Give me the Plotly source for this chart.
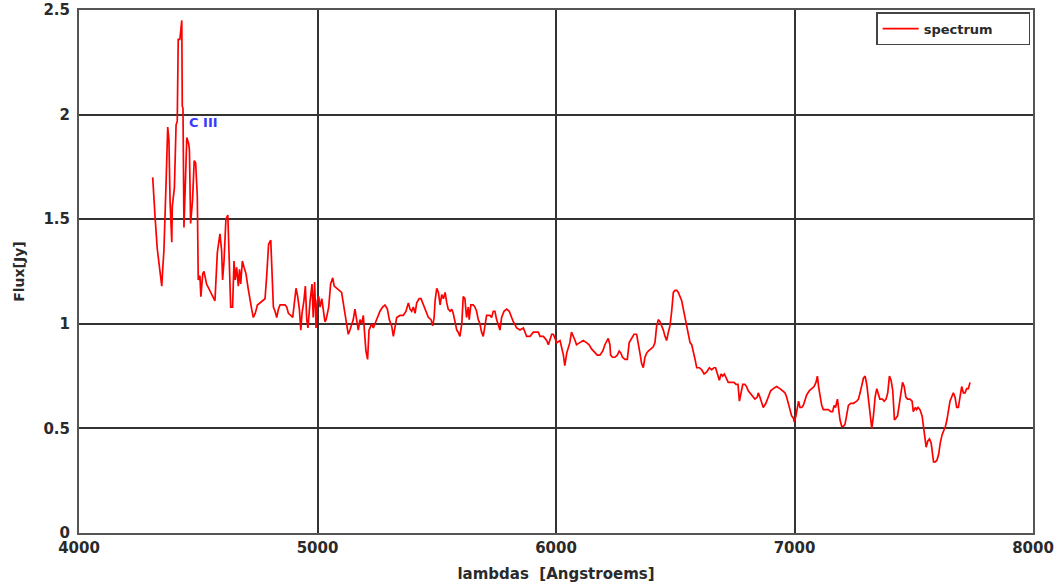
import plotly.graph_objects as go

wavelength = [
4309,4312,4319,4328,4340,4347,4351,4356,4365,4372,4377,4382,4389,4391,4400,4407,4412,4416,4423,4431,
4433,4436,4440,4444,4452,4460,4463,4468,4476,4483,4489,4496,4500,4507,4511,4519,4524,4535,4549,4563,
4570,4580,4588,4591,4598,4602,4608,4616,4624,4630,4636,4644,4650,4655,4661,4668,4673,4678,4685,4692,
4700,4709,4717,4724,4731,4739,4748,4759,4770,4780,4787,4795,4804,4808,4815,4822,4829,4836,4843,4854,
4864,4871,4878,4888,4896,4901,4910,4917,4924,4930,4935,4943,4949,4955,4960,4969,4977,4982,4988,4994,
4999,5005,5011,5018,5024,5031,5036,5047,5055,5064,5070,5080,5091,5101,5108,5115,5122,5129,5136,5150,
5157,5164,5171,5178,5185,5192,5199,5203,5210,5216,5227,5234,5241,5251,5262,5273,5283,5293,5301,5311,
5318,5326,5332,5346,5360,5371,5381,5388,5395,5402,5409,5416,5426,5434,5444,5455,5465,5476,5483,5489,
5493,5500,5507,5514,5521,5528,5535,5542,5548,5556,5563,5569,5577,5584,5590,5597,5605,5611,5618,5625,
5632,5636,5643,5653,5660,5667,5674,5681,5688,5695,5702,5709,5723,5730,5737,5744,5751,5758,5765,5772,
5782,5793,5804,5814,5821,5835,5849,5863,5870,5877,5891,5905,5926,5933,5947,5961,5968,5982,5989,6003,
6017,6031,6037,6045,6058,6065,6080,6086,6100,6114,6128,6139,6149,6156,6163,6173,6184,6196,6205,6213,
6219,6226,6229,6237,6247,6257,6265,6272,6279,6289,6299,6307,6317,6327,6338,6345,6352,6359,6366,6373,
6380,6387,6397,6408,6415,6422,6429,6436,6443,6450,6457,6464,6471,6478,6485,6492,6499,6506,6513,6520,
6527,6534,6541,6548,6555,6562,6569,6576,6583,6590,6601,6611,6621,6632,6643,6653,6662,6669,6676,6685,
6692,6699,6706,6713,6722,6737,6746,6755,6763,6769,6776,6783,6792,6799,6806,6813,6824,6834,6844,6848,
6855,6862,6869,6880,6890,6900,6911,6925,6939,6950,6960,6967,6974,6981,6988,6995,6999,7006,7012,7017,
7023,7030,7037,7044,7051,7062,7072,7082,7090,7096,7101,7107,7114,7121,7132,7142,7152,7160,7166,7172,
7180,7185,7191,7198,7205,7212,7219,7226,7236,7247,7261,7268,7275,7282,7289,7296,7303,7310,7317,7324,
7331,7338,7345,7351,7358,7369,7376,7384,7391,7398,7405,7412,7419,7426,7432,7440,7447,7453,7460,7467,
7474,7484,7493,7498,7507,7512,7518,7526,7535,7540,7546,7552,7559,7566,7573,7577,7583,7591,7598,7605,
7611,7619,7626,7633,7639,7645,7652,7659,7666,7673,7680,7687,7694,7701,7708,7715,7722,7729,7736,
]

flux = [
1.70,1.63,1.51,1.36,1.25,1.18,1.26,1.35,1.67,1.94,1.88,1.58,1.39,1.56,1.65,1.95,1.97,2.36,2.36,2.45,
2.04,2.03,1.46,1.65,1.89,1.86,1.83,1.48,1.59,1.78,1.77,1.61,1.21,1.23,1.13,1.24,1.25,1.19,1.16,1.13,
1.11,1.34,1.43,1.43,1.35,1.21,1.30,1.50,1.52,1.31,1.08,1.08,1.30,1.21,1.27,1.18,1.26,1.19,1.30,1.27,
1.24,1.17,1.11,1.07,1.03,1.05,1.09,1.10,1.11,1.12,1.23,1.38,1.40,1.24,1.08,1.06,1.03,1.07,1.09,1.09,
1.09,1.08,1.05,1.04,1.03,1.08,1.17,1.13,1.07,0.97,1.05,1.11,1.18,1.02,0.98,1.11,1.19,1.03,1.20,0.98,
1.11,1.13,1.08,1.12,1.07,1.01,1.02,1.08,1.19,1.22,1.18,1.17,1.16,1.15,1.10,1.05,0.98,0.95,0.97,1.02,
1.07,1.02,0.97,1.02,1.00,1.04,0.92,0.87,0.83,0.97,1.00,0.98,1.00,1.03,1.06,1.08,1.09,1.07,1.02,0.99,
0.94,0.99,1.03,1.04,1.04,1.06,1.10,1.07,1.06,1.08,1.05,1.10,1.12,1.12,1.09,1.06,1.03,1.02,0.99,1.03,
1.11,1.17,1.15,1.09,1.14,1.12,1.15,1.10,1.07,1.06,1.07,1.05,1.00,0.97,0.96,0.94,1.00,1.13,1.12,1.03,
1.08,1.02,1.09,1.09,1.08,1.06,1.02,1.00,0.96,0.94,0.99,1.04,1.04,1.03,1.06,1.06,1.02,0.99,0.97,1.03,
1.06,1.07,1.06,1.03,1.01,0.98,0.97,0.98,0.96,0.94,0.94,0.96,0.96,0.94,0.94,0.92,0.90,0.95,0.95,0.91,
0.92,0.85,0.80,0.86,0.91,0.96,0.92,0.90,0.91,0.92,0.91,0.90,0.88,0.87,0.86,0.85,0.85,0.87,0.90,0.92,
0.93,0.90,0.85,0.84,0.84,0.85,0.87,0.86,0.84,0.83,0.83,0.91,0.93,0.95,0.95,0.91,0.86,0.81,0.79,0.84,
0.86,0.87,0.88,0.89,0.91,0.99,1.02,1.01,0.99,0.97,0.94,0.92,0.96,0.99,1.06,1.15,1.16,1.16,1.15,1.13,
1.11,1.07,1.03,0.98,0.94,0.91,0.90,0.87,0.83,0.79,0.79,0.78,0.76,0.77,0.79,0.78,0.79,0.79,0.76,0.73,
0.76,0.75,0.76,0.74,0.72,0.72,0.72,0.71,0.71,0.63,0.67,0.71,0.71,0.70,0.68,0.67,0.65,0.64,0.65,0.67,
0.65,0.62,0.60,0.62,0.65,0.68,0.69,0.70,0.69,0.68,0.67,0.65,0.62,0.59,0.56,0.55,0.53,0.56,0.60,0.63,
0.60,0.60,0.61,0.64,0.66,0.68,0.69,0.70,0.72,0.75,0.70,0.66,0.61,0.59,0.59,0.59,0.58,0.58,0.61,0.60,
0.64,0.59,0.54,0.51,0.51,0.52,0.56,0.61,0.62,0.62,0.63,0.64,0.67,0.71,0.74,0.75,0.71,0.64,0.56,0.50,
0.56,0.65,0.69,0.67,0.64,0.64,0.63,0.64,0.67,0.75,0.73,0.68,0.54,0.55,0.56,0.62,0.67,0.72,0.70,0.65,
0.64,0.64,0.63,0.58,0.60,0.59,0.60,0.59,0.56,0.51,0.44,0.41,0.44,0.45,0.43,0.38,0.34,0.34,0.35,0.38,
0.43,0.47,0.49,0.51,0.54,0.59,0.63,0.65,0.67,0.65,0.60,0.60,0.66,0.70,0.67,0.67,0.69,0.69,0.72,
]

x_ticks = [4000, 5000, 6000, 7000, 8000]
y_ticks = [0, 0.5, 1, 1.5, 2, 2.5]
y_tick_labels = ["0", "0.5", "1", "1.5", "2", "2.5"]

label_text = "C III"
label_x = 4524
label_y = 1.96

font_family = "DejaVu Sans, sans-serif"
text_color = "#2a2a2a"
grid_color = "#333333"

fig = go.Figure()
fig.add_trace(go.Scatter(
    x=wavelength, y=flux, mode="lines", name="<b>spectrum</b>",
    line=dict(color="#ff0000", width=1.7),
))

fig.add_annotation(
    x=label_x, y=label_y, text="<b>" + label_text + "</b>", showarrow=False,
    font=dict(family=font_family, size=13, color="#3a3aff"),
)

fig.update_layout(
    width=1060, height=586,
    margin=dict(l=79, r=27, t=10, b=53, autoexpand=False),
    paper_bgcolor="white", plot_bgcolor="white",
    font=dict(family=font_family, size=14, color=text_color),
    showlegend=True,
    legend=dict(
        x=0.997, y=0.996, xanchor="right", yanchor="top",
        orientation="h", entrywidth=100, entrywidthmode="pixels",
        bgcolor="white", bordercolor="#444444", borderwidth=1.5,
        font=dict(family=font_family, size=13, color=text_color),
        itemwidth=36,
    ),
    xaxis=dict(
        range=[4000, 8000], tickvals=x_ticks, ticktext=["<b>%d</b>" % v for v in x_ticks],
        showgrid=True, gridcolor=grid_color, gridwidth=2.2,
        showline=True, linecolor="#555555", linewidth=2, mirror=True,
        zeroline=False, ticks="", ticklen=0, automargin=False,
        ticklabeloverflow="allow",
        title=dict(text="<b>lambdas  [Angstroems]</b>", standoff=12,
                   font=dict(family=font_family, size=15, color=text_color)),
        tickfont=dict(family=font_family, size=15, color=text_color),
    ),
    yaxis=dict(
        range=[0, 2.5], tickvals=y_ticks, ticktext=["<b>%s</b>" % t for t in y_tick_labels],
        showgrid=True, gridcolor=grid_color, gridwidth=1.5,
        showline=True, linecolor="#555555", linewidth=2, mirror=True,
        zeroline=False, ticks="", ticklen=0, automargin=False,
        ticklabelstandoff=4, ticklabeloverflow="allow",
        title=dict(text="<b>Flux[Jy]</b>", standoff=16,
                   font=dict(family=font_family, size=14, color=text_color)),
        tickfont=dict(family=font_family, size=15, color=text_color),
    ),
)

fig.write_html("out.html", config={"displayModeBar": False},
               post_script="document.body.style.margin='0';")
